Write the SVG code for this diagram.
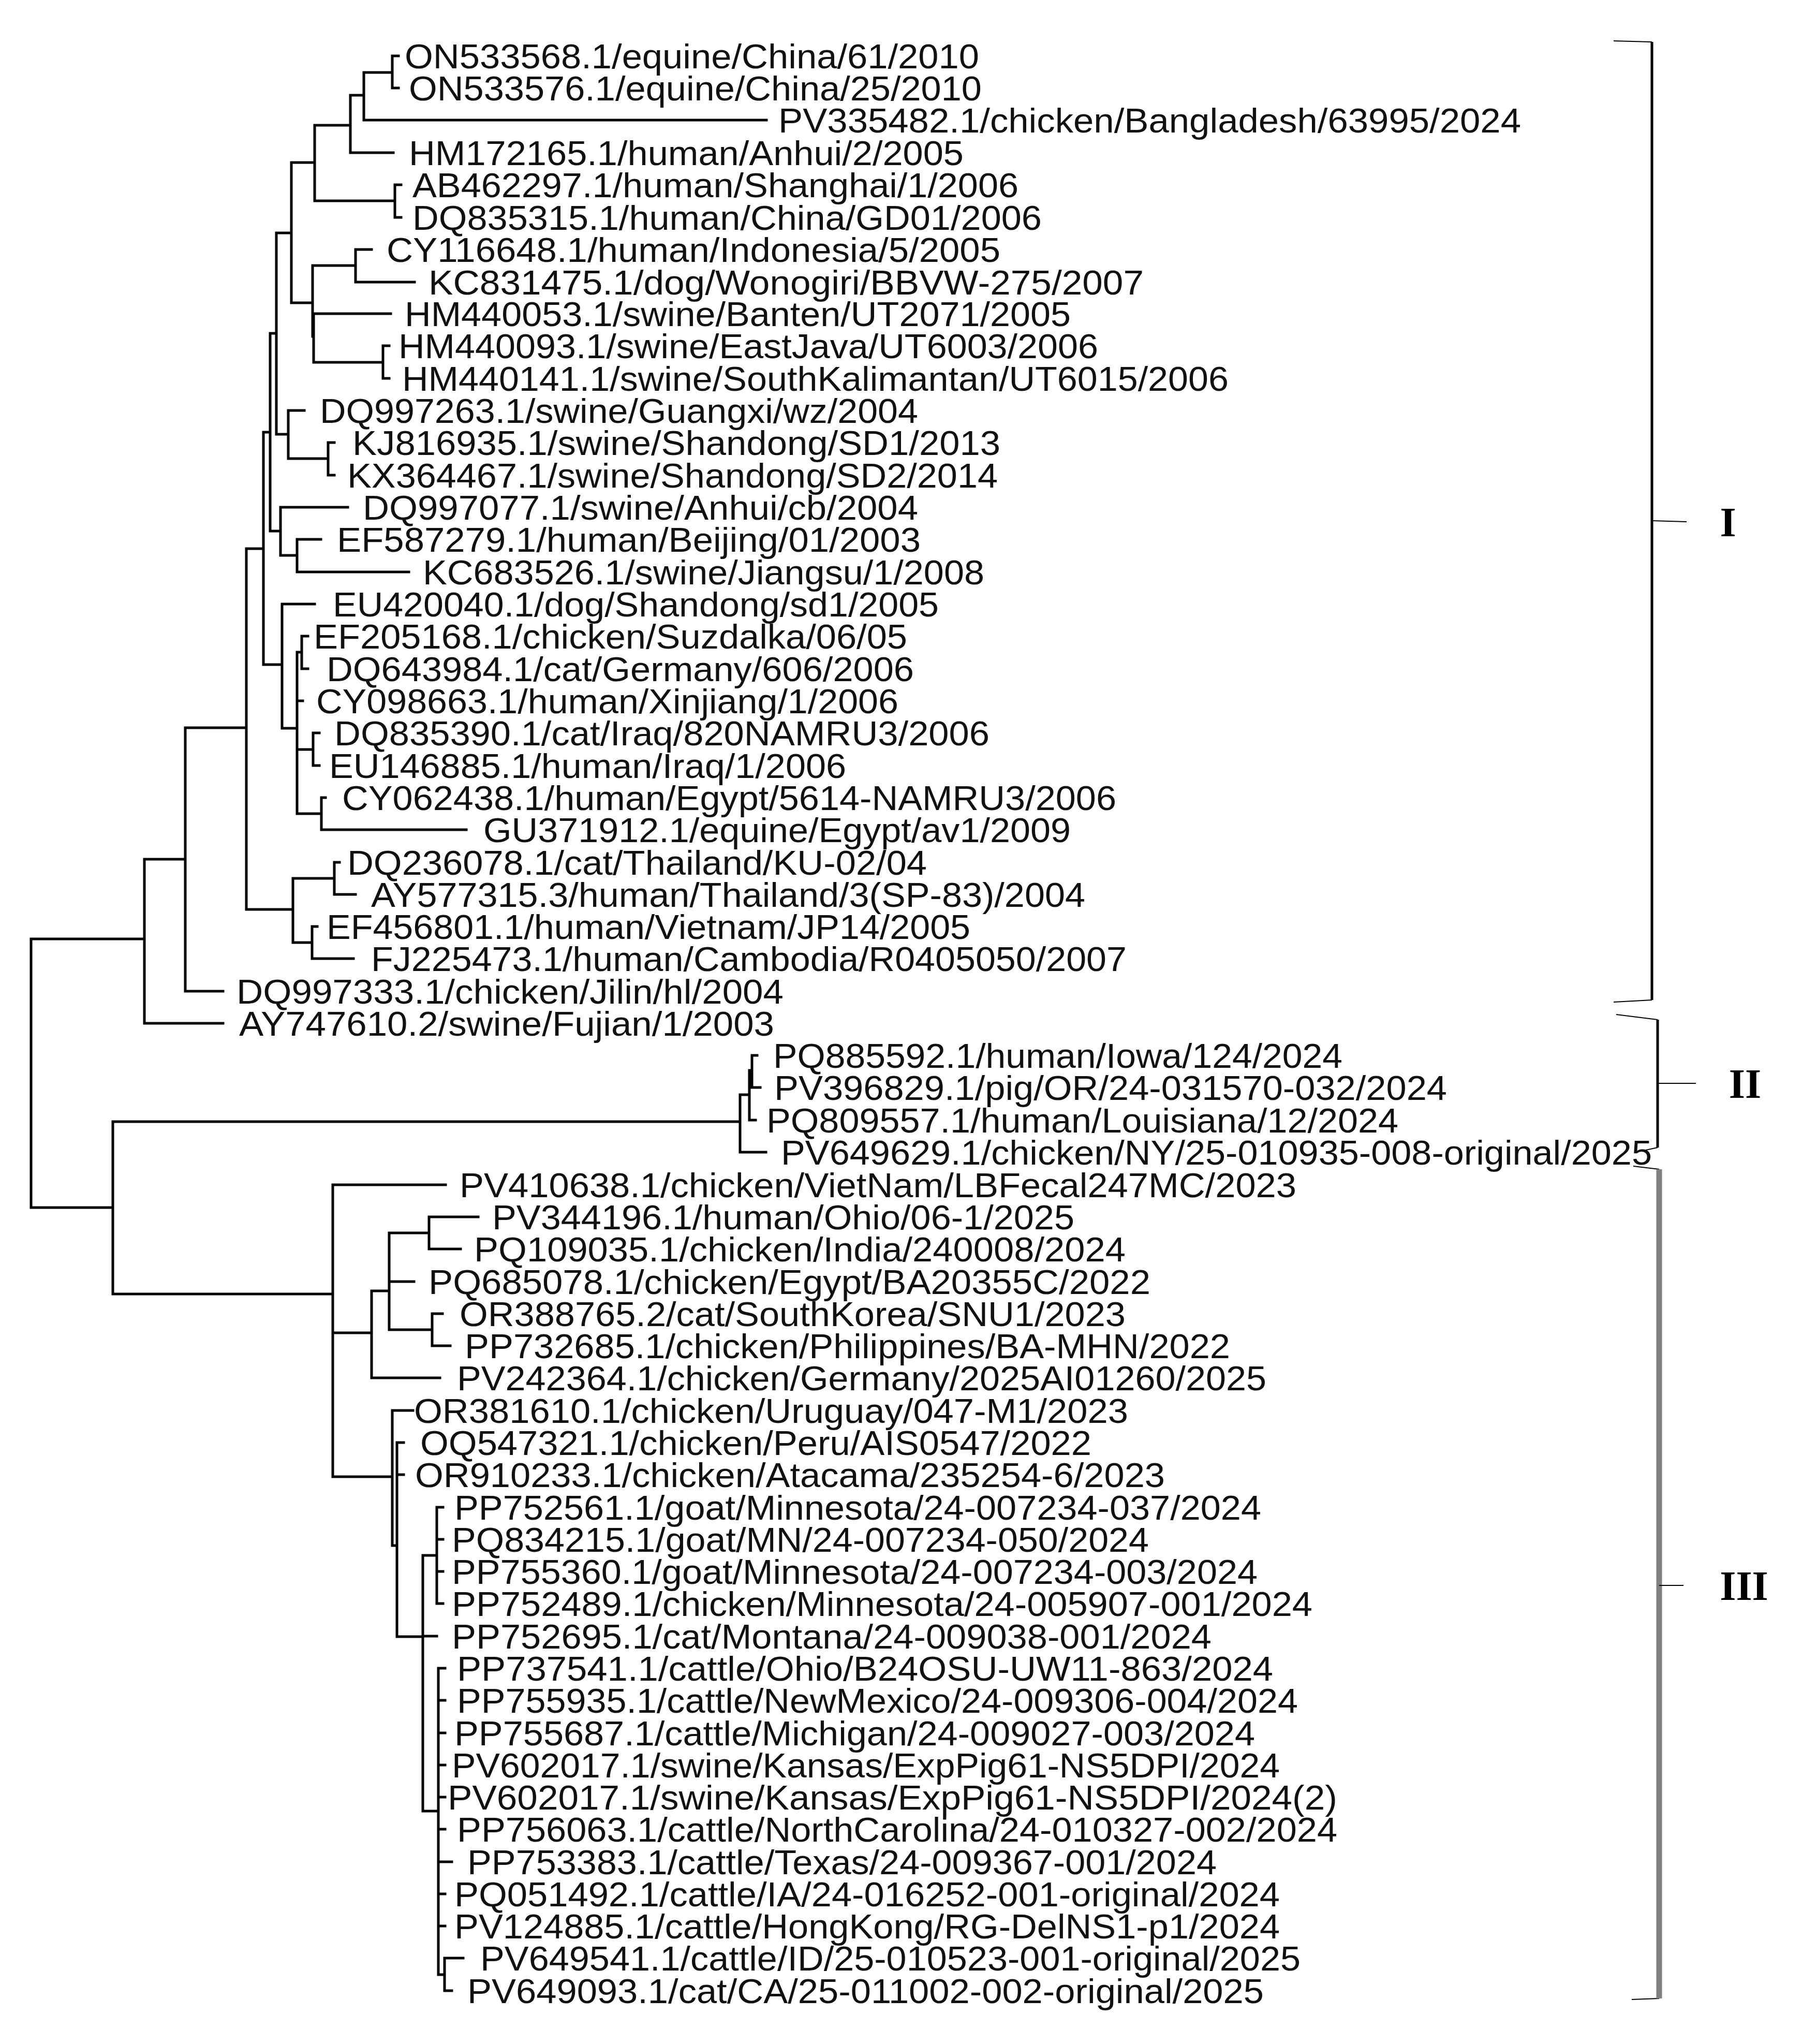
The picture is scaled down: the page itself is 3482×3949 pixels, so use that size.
<svg xmlns="http://www.w3.org/2000/svg" width="3482" height="3949" viewBox="0 0 3482 3949">
<style>
.b{fill:none;stroke:#000;stroke-width:5;stroke-linecap:square}
.t{font-family:"Liberation Sans",Arial,sans-serif;font-size:66px;fill:#111}
.br{fill:none;stroke:#000;stroke-width:5}
.s{fill:none;stroke:#000;stroke-width:2}
.lab{font-family:"Liberation Serif","Times New Roman",serif;font-size:80px;font-weight:bold;fill:#000;text-anchor:middle}
</style>
<rect width="3482" height="3949" fill="#fff"/>
<g id="connectors">
<path class="b" d="
M60 1814V2333 M60 1814H279 M60 2333H218
M279 1660V1977 M279 1660H358 M279 1977H431
M358 1406V1915 M358 1406H476 M358 1915H431
M476 1060V1757 M476 1060H509 M476 1757H566
M509 835V1284 M509 835H522 M509 1284H545
M522 644V1026 M522 644H534 M522 1026H542
M534 450V839 M534 450H563 M534 839H557
M563 314V585 M563 314H608 M563 585H604
M608 242V388 M608 242H677 M608 388H763
M677 184V295 M677 184H703 M677 295H760
M703 140V232 M703 140H758 M703 232H1481
M758 108V170 M758 108H770 M758 170H770
M763 357V420 M763 357H775 M763 420H775
M604 513V650 M604 513H687 M604 650H606
M687 482V545 M687 482H718 M687 545H801
M606 606V700 M606 606H755 M606 700H740
M740 668V731 M740 668H752 M740 731H752
M557 793V886 M557 793H588 M557 886H634
M634 855V918 M634 855H646 M634 918H646
M542 980V1073 M542 980H672 M542 1073H574
M574 1042V1105 M574 1042H620 M574 1105H790
M545 1167V1407 M545 1167H608 M545 1407H574
M574 1260V1572 M574 1260H583 M574 1354H585 M574 1448H605 M574 1572H621
M583 1229V1292 M583 1229H595 M583 1292H595
M605 1416V1479 M605 1416H617 M605 1479H617
M621 1541V1603 M621 1541H629 M621 1603H901
M566 1697V1821 M566 1697H646 M566 1821H603
M646 1666V1728 M646 1666H656 M646 1728H687
M603 1790V1852 M603 1790H613 M603 1852H683
M218 2167V2500 M218 2167H1430 M218 2500H643
M1430 2115V2226 M1430 2115H1448 M1430 2226H1480
M1448 2068V2164 M1448 2068H1453 M1448 2164H1460
M1453 2039V2101 M1453 2039H1463 M1453 2101H1469
M643 2289V2853 M643 2289H861 M643 2575H718 M643 2853H758
M718 2494V2662 M718 2494H752 M718 2662H850
M752 2382V2569 M752 2382H829 M752 2476H800 M752 2569H835
M829 2351V2413 M829 2351H924 M829 2413H890
M835 2538V2600 M835 2538H855 M835 2600H870
M758 2725V2986 M758 2725H798 M758 2986H767
M767 2787V3162 M767 2787H780 M767 2849H780 M767 3162H817
M817 3005V3499 M817 3005H844 M817 3161H844 M817 3499H847
M844 2912V3098 M844 2912H856 M844 2974H856 M844 3036H856 M844 3098H856
M847 3223V3815 M847 3223H860 M847 3285H860 M847 3348H860 M847 3410H860 M847 3472H860 M847 3534H860 M847 3597H873 M847 3659H860 M847 3721H860 M847 3815H859
M859 3783V3846 M859 3783H895 M859 3846H873
"/>
</g>
<g id="leaves">
<text class="t" x="782" y="132" textLength="1110" lengthAdjust="spacingAndGlyphs">ON533568.1/equine/China/61/2010</text>
<text class="t" x="790" y="194" textLength="1107" lengthAdjust="spacingAndGlyphs">ON533576.1/equine/China/25/2010</text>
<text class="t" x="1504" y="256" textLength="1435" lengthAdjust="spacingAndGlyphs">PV335482.1/chicken/Bangladesh/63995/2024</text>
<text class="t" x="790" y="319" textLength="1072" lengthAdjust="spacingAndGlyphs">HM172165.1/human/Anhui/2/2005</text>
<text class="t" x="797" y="381" textLength="1171" lengthAdjust="spacingAndGlyphs">AB462297.1/human/Shanghai/1/2006</text>
<text class="t" x="797" y="444" textLength="1216" lengthAdjust="spacingAndGlyphs">DQ835315.1/human/China/GD01/2006</text>
<text class="t" x="747" y="506" textLength="1186" lengthAdjust="spacingAndGlyphs">CY116648.1/human/Indonesia/5/2005</text>
<text class="t" x="828" y="569" textLength="1382" lengthAdjust="spacingAndGlyphs">KC831475.1/dog/Wonogiri/BBVW-275/2007</text>
<text class="t" x="782" y="630" textLength="1287" lengthAdjust="spacingAndGlyphs">HM440053.1/swine/Banten/UT2071/2005</text>
<text class="t" x="770" y="692" textLength="1352" lengthAdjust="spacingAndGlyphs">HM440093.1/swine/EastJava/UT6003/2006</text>
<text class="t" x="777" y="755" textLength="1597" lengthAdjust="spacingAndGlyphs">HM440141.1/swine/SouthKalimantan/UT6015/2006</text>
<text class="t" x="618" y="817" textLength="1156" lengthAdjust="spacingAndGlyphs">DQ997263.1/swine/Guangxi/wz/2004</text>
<text class="t" x="681" y="879" textLength="1252" lengthAdjust="spacingAndGlyphs">KJ816935.1/swine/Shandong/SD1/2013</text>
<text class="t" x="671" y="942" textLength="1257" lengthAdjust="spacingAndGlyphs">KX364467.1/swine/Shandong/SD2/2014</text>
<text class="t" x="701" y="1004" textLength="1073" lengthAdjust="spacingAndGlyphs">DQ997077.1/swine/Anhui/cb/2004</text>
<text class="t" x="651" y="1066" textLength="1128" lengthAdjust="spacingAndGlyphs">EF587279.1/human/Beijing/01/2003</text>
<text class="t" x="817" y="1129" textLength="1085" lengthAdjust="spacingAndGlyphs">KC683526.1/swine/Jiangsu/1/2008</text>
<text class="t" x="643" y="1191" textLength="1171" lengthAdjust="spacingAndGlyphs">EU420040.1/dog/Shandong/sd1/2005</text>
<text class="t" x="606" y="1253" textLength="1147" lengthAdjust="spacingAndGlyphs">EF205168.1/chicken/Suzdalka/06/05</text>
<text class="t" x="631" y="1316" textLength="1135" lengthAdjust="spacingAndGlyphs">DQ643984.1/cat/Germany/606/2006</text>
<text class="t" x="611" y="1378" textLength="1125" lengthAdjust="spacingAndGlyphs">CY098663.1/human/Xinjiang/1/2006</text>
<text class="t" x="646" y="1440" textLength="1266" lengthAdjust="spacingAndGlyphs">DQ835390.1/cat/Iraq/820NAMRU3/2006</text>
<text class="t" x="636" y="1503" textLength="999" lengthAdjust="spacingAndGlyphs">EU146885.1/human/Iraq/1/2006</text>
<text class="t" x="661" y="1565" textLength="1496" lengthAdjust="spacingAndGlyphs">CY062438.1/human/Egypt/5614-NAMRU3/2006</text>
<text class="t" x="934" y="1627" textLength="1135" lengthAdjust="spacingAndGlyphs">GU371912.1/equine/Egypt/av1/2009</text>
<text class="t" x="671" y="1690" textLength="1120" lengthAdjust="spacingAndGlyphs">DQ236078.1/cat/Thailand/KU-02/04</text>
<text class="t" x="717" y="1752" textLength="1380" lengthAdjust="spacingAndGlyphs">AY577315.3/human/Thailand/3(SP-83)/2004</text>
<text class="t" x="631" y="1814" textLength="1244" lengthAdjust="spacingAndGlyphs">EF456801.1/human/Vietnam/JP14/2005</text>
<text class="t" x="717" y="1876" textLength="1460" lengthAdjust="spacingAndGlyphs">FJ225473.1/human/Cambodia/R0405050/2007</text>
<text class="t" x="457" y="1939" textLength="1057" lengthAdjust="spacingAndGlyphs">DQ997333.1/chicken/Jilin/hl/2004</text>
<text class="t" x="462" y="2001" textLength="1034" lengthAdjust="spacingAndGlyphs">AY747610.2/swine/Fujian/1/2003</text>
<text class="t" x="1494" y="2063" textLength="1100" lengthAdjust="spacingAndGlyphs">PQ885592.1/human/Iowa/124/2024</text>
<text class="t" x="1496" y="2125" textLength="1300" lengthAdjust="spacingAndGlyphs">PV396829.1/pig/OR/24-031570-032/2024</text>
<text class="t" x="1481" y="2188" textLength="1221" lengthAdjust="spacingAndGlyphs">PQ809557.1/human/Louisiana/12/2024</text>
<text class="t" x="1509" y="2250" textLength="1683" lengthAdjust="spacingAndGlyphs">PV649629.1/chicken/NY/25-010935-008-original/2025</text>
<text class="t" x="888" y="2313" textLength="1617" lengthAdjust="spacingAndGlyphs">PV410638.1/chicken/VietNam/LBFecal247MC/2023</text>
<text class="t" x="951" y="2375" textLength="1125" lengthAdjust="spacingAndGlyphs">PV344196.1/human/Ohio/06-1/2025</text>
<text class="t" x="916" y="2437" textLength="1259" lengthAdjust="spacingAndGlyphs">PQ109035.1/chicken/India/240008/2024</text>
<text class="t" x="828" y="2500" textLength="1395" lengthAdjust="spacingAndGlyphs">PQ685078.1/chicken/Egypt/BA20355C/2022</text>
<text class="t" x="888" y="2562" textLength="1287" lengthAdjust="spacingAndGlyphs">OR388765.2/cat/SouthKorea/SNU1/2023</text>
<text class="t" x="898" y="2624" textLength="1479" lengthAdjust="spacingAndGlyphs">PP732685.1/chicken/Philippines/BA-MHN/2022</text>
<text class="t" x="883" y="2686" textLength="1564" lengthAdjust="spacingAndGlyphs">PV242364.1/chicken/Germany/2025AI01260/2025</text>
<text class="t" x="800" y="2749" textLength="1380" lengthAdjust="spacingAndGlyphs">OR381610.1/chicken/Uruguay/047-M1/2023</text>
<text class="t" x="812" y="2811" textLength="1297" lengthAdjust="spacingAndGlyphs">OQ547321.1/chicken/Peru/AIS0547/2022</text>
<text class="t" x="802" y="2873" textLength="1449" lengthAdjust="spacingAndGlyphs">OR910233.1/chicken/Atacama/235254-6/2023</text>
<text class="t" x="878" y="2936" textLength="1559" lengthAdjust="spacingAndGlyphs">PP752561.1/goat/Minnesota/24-007234-037/2024</text>
<text class="t" x="873" y="2998" textLength="1347" lengthAdjust="spacingAndGlyphs">PQ834215.1/goat/MN/24-007234-050/2024</text>
<text class="t" x="873" y="3060" textLength="1557" lengthAdjust="spacingAndGlyphs">PP755360.1/goat/Minnesota/24-007234-003/2024</text>
<text class="t" x="873" y="3122" textLength="1663" lengthAdjust="spacingAndGlyphs">PP752489.1/chicken/Minnesota/24-005907-001/2024</text>
<text class="t" x="873" y="3185" textLength="1468" lengthAdjust="spacingAndGlyphs">PP752695.1/cat/Montana/24-009038-001/2024</text>
<text class="t" x="883" y="3247" textLength="1577" lengthAdjust="spacingAndGlyphs">PP737541.1/cattle/Ohio/B24OSU-UW11-863/2024</text>
<text class="t" x="883" y="3309" textLength="1625" lengthAdjust="spacingAndGlyphs">PP755935.1/cattle/NewMexico/24-009306-004/2024</text>
<text class="t" x="878" y="3372" textLength="1547" lengthAdjust="spacingAndGlyphs">PP755687.1/cattle/Michigan/24-009027-003/2024</text>
<text class="t" x="873" y="3434" textLength="1600" lengthAdjust="spacingAndGlyphs">PV602017.1/swine/Kansas/ExpPig61-NS5DPI/2024</text>
<text class="t" x="865" y="3496" textLength="1719" lengthAdjust="spacingAndGlyphs">PV602017.1/swine/Kansas/ExpPig61-NS5DPI/2024(2)</text>
<text class="t" x="883" y="3558" textLength="1701" lengthAdjust="spacingAndGlyphs">PP756063.1/cattle/NorthCarolina/24-010327-002/2024</text>
<text class="t" x="903" y="3621" textLength="1448" lengthAdjust="spacingAndGlyphs">PP753383.1/cattle/Texas/24-009367-001/2024</text>
<text class="t" x="878" y="3683" textLength="1595" lengthAdjust="spacingAndGlyphs">PQ051492.1/cattle/IA/24-016252-001-original/2024</text>
<text class="t" x="878" y="3745" textLength="1595" lengthAdjust="spacingAndGlyphs">PV124885.1/cattle/HongKong/RG-DelNS1-p1/2024</text>
<text class="t" x="928" y="3807" textLength="1585" lengthAdjust="spacingAndGlyphs">PV649541.1/cattle/ID/25-010523-001-original/2025</text>
<text class="t" x="903" y="3870" textLength="1539" lengthAdjust="spacingAndGlyphs">PV649093.1/cat/CA/25-011002-002-original/2025</text>
</g>
<g id="clade-I">
<path class="s" d="M3118 79L3192 81M3118 1936L3192 1932"/>
<path class="br" d="M3192 81V1932"/>
<path class="s" d="M3192 1006L3259 1008"/>
<text class="lab" x="3339" y="1036">I</text>
</g>
<g id="clade-II">
<path class="s" d="M3123 1960L3203 1970M3180 2222L3203 2217"/>
<path class="br" d="M3203 1970V2217"/>
<path class="s" d="M3203 2093L3277 2093"/>
<text class="lab" x="3372" y="2121">II</text>
</g>
<g id="clade-III">
<path class="s" d="M3156 2253L3206 2259M3153 3863L3206 3861" stroke="#808080"/>
<path d="M3206 2259V3861" fill="none" stroke="#808080" stroke-width="11"/>
<path class="s" d="M3206 3063L3253 3063"/>
<text class="lab" x="3370" y="3091">III</text>
</g>
</svg>
